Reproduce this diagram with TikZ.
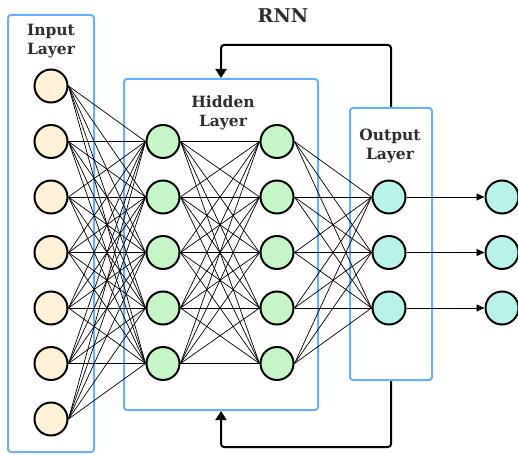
\documentclass[tikz,border=0pt]{standalone}
\usepackage{fontspec}
\setmainfont{DejaVu Serif}
\usetikzlibrary{arrows.meta}
\definecolor{boxblue}{HTML}{6AAEFF}
\definecolor{infill}{HTML}{FFF0D8}
\definecolor{hidfill}{HTML}{C6F5C8}
\definecolor{outfill}{HTML}{B8F3EA}
\tikzset{
  layerbox/.style={draw=boxblue, line width=2pt, rounded corners=3pt, inner sep=0pt},
  neuron/.style={circle, draw=black, line width=2pt, minimum size=33pt, inner sep=0pt},
  conn/.style={black, line width=0.7pt},
  fb/.style={black, line width=2pt, rounded corners=3pt, -{Triangle[length=9pt,width=11pt]}},
  outarrow/.style={black, line width=0.9pt, -{Triangle[length=8pt,width=7pt]}},
  lbl/.style={align=center, font=\bfseries\fontsize{15.5}{19.5}\selectfont, text=black!82}
}
\begin{document}
\begin{tikzpicture}[x=1pt,y=-1pt]
\useasboundingbox (0,0) rectangle (518,454);
% layer boxes
\node[layerbox, minimum width=86pt, minimum height=437pt] (inbox) at (51,233.5) {};
\node[layerbox, minimum width=194pt, minimum height=331pt] (hidbox) at (221,244.5) {};
\node[layerbox, minimum width=82pt, minimum height=272pt] (outbox) at (391,244) {};
% labels
\node[lbl] (inlbl) at (51,41) {Input\\Layer};
\node[lbl] (hidlbl) at (223,113) {Hidden\\Layer};
\node[lbl] (outlbl) at (390,146) {Output\\Layer};
\node[lbl, font=\bfseries\fontsize{19}{23}\selectfont] (rnn) at (283,16) {RNN};
% neuron positions
\foreach \i in {1,...,7} {
  \coordinate (in\i) at (51,{86+55.5*(\i-1)});
}
\foreach \i in {1,...,5} {
  \coordinate (ha\i) at (163,{141.5+55.5*(\i-1)});
  \coordinate (hb\i) at (277,{141.5+55.5*(\i-1)});
}
\foreach \i in {1,...,3} {
  \coordinate (o\i) at (389,{197+55.5*(\i-1)});
  \coordinate (f\i) at (502,{197+55.5*(\i-1)});
}
% neurons
\foreach \i in {1,...,7} {
  \node[neuron, fill=infill] (nin\i) at (in\i) {};
}
\foreach \i in {1,...,5} {
  \node[neuron, fill=hidfill] (nha\i) at (ha\i) {};
  \node[neuron, fill=hidfill] (nhb\i) at (hb\i) {};
}
\foreach \i in {1,...,3} {
  \node[neuron, fill=outfill] (no\i) at (o\i) {};
  \node[neuron, fill=outfill] (nf\i) at (f\i) {};
}
% connections
\foreach \i in {1,...,7} \foreach \j in {1,...,5}
  \draw[conn] (nin\i.east) -- (nha\j.west);
\foreach \i in {1,...,5} \foreach \j in {1,...,5}
  \draw[conn] (nha\i.east) -- (nhb\j.west);
\foreach \i in {1,...,5} \foreach \j in {1,...,3}
  \draw[conn] (nhb\i.east) -- (no\j.west);
\foreach \i in {1,...,3}
  \draw[outarrow] (no\i.east) -- (nf\i.west);
% feedback loops
\coordinate (topturn) at (221,45);
\coordinate (botturn) at (221,447);
\draw[fb] (outbox.north) |- (topturn) -- (hidbox.north);
\draw[fb] (outbox.south) |- (botturn) -- (hidbox.south);
\end{tikzpicture}
\end{document}
